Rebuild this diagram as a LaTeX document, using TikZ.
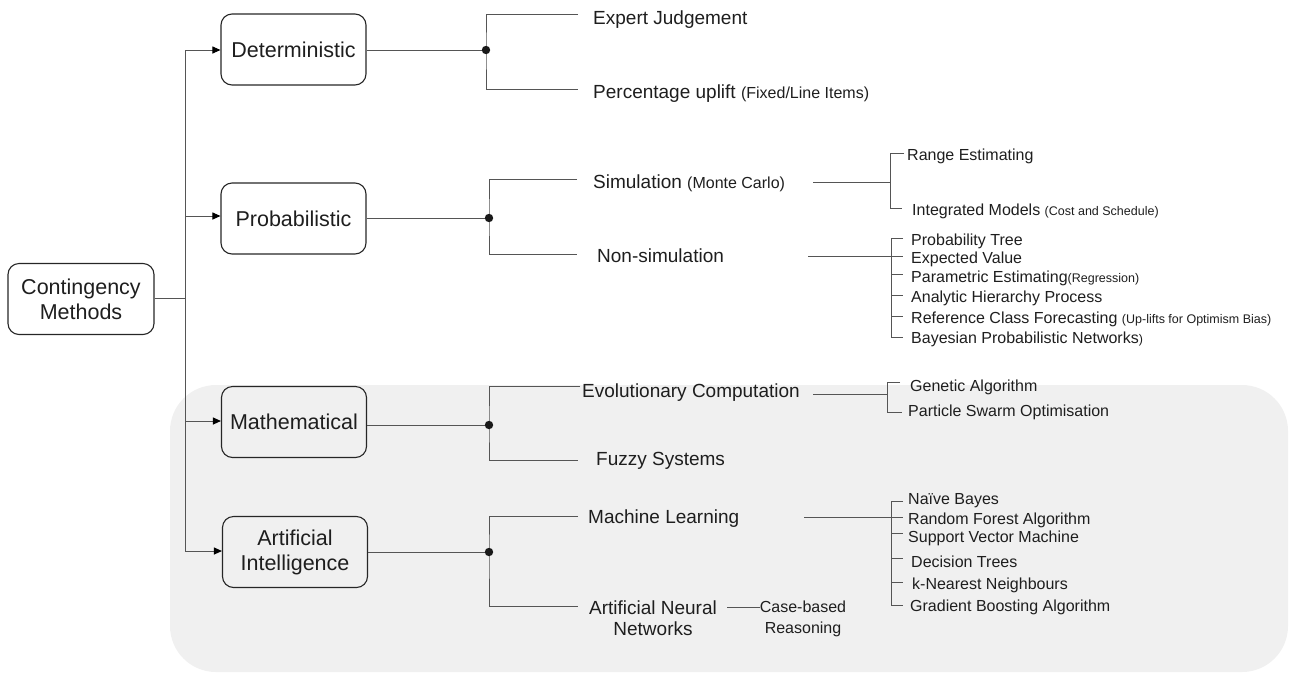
\documentclass[tikz,border=0pt]{standalone}
\usepackage{fontspec}
\setmainfont{Liberation Sans}
\usetikzlibrary{arrows.meta}
\definecolor{bgc}{HTML}{F0F0F0}
\definecolor{lnc}{HTML}{555555}
\definecolor{txc}{HTML}{1E1E1E}
\newcommand{\smA}[1]{{\fontsize{16}{19}\selectfont #1}}
\newcommand{\smB}[1]{{\fontsize{12.5}{15}\selectfont #1}}
\begin{document}
\begin{tikzpicture}[x=1pt,y=-1pt,
 box/.style={draw=black!85, line width=1.1pt, rounded corners=11pt, minimum width=145pt, minimum height=71pt, align=center, inner sep=0pt, text=txc, font=\fontsize{21.5}{25}\selectfont},
 lA/.style={anchor=mid west, inner sep=0pt, yshift=-4pt, text=txc, font=\fontsize{19}{21}\selectfont},
 lB/.style={anchor=mid west, inner sep=0pt, yshift=-3pt, text=txc, font=\fontsize{16}{19}\selectfont},
 ln/.style={draw=lnc, line width=1pt},
 arr/.style={-{Triangle[length=8pt,width=7pt,color=black,fill=black]}},
]
\useasboundingbox (0,0) rectangle (1297,673);
% background panel
\fill[bgc, rounded corners=46pt] (170,385) rectangle (1288,672);

% level 1 boxes
\node[box, minimum width=146pt] (cm) at (81,299) {Contingency\\Methods};
\node[box] (det) at (293.5,49.5) {Deterministic};
\node[box] (prob) at (293.5,218.5) {Probabilistic};
\node[box] (math) at (294,422) {Mathematical};
\node[box] (ai) at (295,552) {Artificial\\Intelligence};

% trunk
\coordinate (t0) at (185,298);
\coordinate (tdet) at (185,50);
\coordinate (tprob) at (185,216);
\coordinate (tmath) at (185,421);
\coordinate (tai) at (185,551);
\draw[ln] (cm.east |- t0) -- (t0);
\draw[ln] (tdet) -- (tai);
\draw[ln,arr] (tdet) -- (det.west |- tdet);
\draw[ln,arr] (tprob) -- (prob.west |- tprob);
\draw[ln,arr] (tmath) -- (math.west |- tmath);
\draw[ln,arr] (tai) -- (ai.west |- tai);

% level 2 text
\node[lA] (ej) at (593,18) {Expert Judgement};
\node[lA] (pu) at (593,92) {Percentage uplift \smA{(Fixed/Line Items)}};
\node[lA] (sim) at (593,182) {Simulation \smA{(Monte Carlo)}};
\node[lA] (nons) at (597,256) {Non-simulation};
\node[lA] (evo) at (582,391) {Evolutionary Computation};
\node[lA] (fuz) at (596,459) {Fuzzy Systems};
\node[lA] (ml) at (588,517) {Machine Learning};
\node[align=center, inner sep=0pt, text=txc, font=\fontsize{19}{21}\selectfont] (ann) at (653,618) {Artificial Neural\\Networks};
\node[align=center, inner sep=0pt, text=txc, font=\fontsize{16}{21}\selectfont] (cbr) at (803,619) {Case-based\\Reasoning};

% level 2 connectors
\coordinate (jdet) at (486,50);
\coordinate (ej0) at (578,14);
\coordinate (pu0) at (578,89);
\draw[ln] (det.east |- jdet) -- (jdet);
\draw[ln] (ej0) -| (jdet) |- (pu0);
\fill[black!90] (jdet) circle (4.2pt);

\coordinate (jprob) at (489,218);
\coordinate (sim0) at (577,179);
\coordinate (nons0) at (577,254);
\draw[ln] (prob.east |- jprob) -- (jprob);
\draw[ln] (sim0) -| (jprob) |- (nons0);
\fill[black!90] (jprob) circle (4.2pt);

\coordinate (jmath) at (489,425);
\coordinate (evo0) at (580,386);
\coordinate (fuz0) at (578,460);
\draw[ln] (math.east |- jmath) -- (jmath);
\draw[ln] (evo0) -| (jmath) |- (fuz0);
\fill[black!90] (jmath) circle (4.2pt);

\coordinate (jai) at (489,552);
\coordinate (ml0) at (578,516);
\coordinate (ann0) at (578,606);
\draw[ln] (ai.east |- jai) -- (jai);
\draw[ln] (ml0) -| (jai) |- (ann0);
\fill[black!90] (jai) circle (4.2pt);

\coordinate (annr) at (727,607);
\draw[ln] (annr) -- (cbr.west |- annr);

% simulation branch
\coordinate (sime) at (813,182);
\coordinate (simv) at (890,182);
\draw[ln] (sime) -- (simv);
\node[lB] (re) at (907,155) {Range Estimating};
\node[lB] (im) at (912,210) {Integrated Models \smB{(Cost and Schedule)}};
\draw[ln] ([xshift=-3pt]re.west |- 0,153) -| (simv) |- ([xshift=-10pt]im.west |- 0,208);

% non-simulation branch
\coordinate (nse) at (808,256);
\coordinate (nsv) at (891,256);
\draw[ln] (nse) -- (nsv);
\node[lB] (pt) at (911,240) {Probability Tree};
\node[lB] (ev) at (911,258) {Expected Value};
\node[lB] (pe) at (911,277) {Parametric Estimating\smB{(Regression)}};
\node[lB] (ah) at (911,297) {Analytic Hierarchy Process};
\node[lB] (rc) at (911,318) {Reference Class Forecasting \smB{(Up-lifts for Optimism Bias)}};
\node[lB] (bp) at (911,338) {Bayesian Probabilistic Networks\smB{)}};
\draw[ln] ([xshift=-8pt]pt.west |- 0,238) -| (nsv) |- ([xshift=-8pt]bp.west |- 0,337);
\draw[ln] (nsv) -- ([xshift=-8pt]ev.west |- nsv);
\draw[ln] (nsv |- 0,274) -- ([xshift=-8pt]pe.west |- 0,274);
\draw[ln] (nsv |- 0,295) -- ([xshift=-8pt]ah.west |- 0,295);
\draw[ln] (nsv |- 0,316) -- ([xshift=-8pt]rc.west |- 0,316);

% evolutionary branch
\coordinate (eve) at (813,394);
\coordinate (evv) at (887,394);
\draw[ln] (eve) -- (evv);
\node[lB] (ga) at (910,386) {Genetic Algorithm};
\node[lB] (pso) at (908,411) {Particle Swarm Optimisation};
\draw[ln] ([xshift=-10pt]ga.west |- 0,382) -| (evv) |- ([xshift=-6pt]pso.west |- 0,412);

% machine learning branch
\coordinate (mle) at (804,517);
\coordinate (mlv) at (891,517);
\draw[ln] (mle) -- (mlv);
\node[lB] (nb) at (908,499) {Naïve Bayes};
\node[lB] (rf) at (908,519) {Random Forest Algorithm};
\node[lB] (sv) at (908,537) {Support Vector Machine};
\node[lB] (dt) at (911,562) {Decision Trees};
\node[lB] (kn) at (912,584) {k-Nearest Neighbours};
\node[lB] (gb) at (910,606) {Gradient Boosting Algorithm};
\draw[ln] ([xshift=-5pt]nb.west |- 0,501) -| (mlv) |- ([xshift=-7pt]gb.west |- 0,605);
\draw[ln] (mlv) -- ([xshift=-5pt]rf.west |- mlv);
\draw[ln] (mlv |- 0,533) -- ([xshift=-5pt]sv.west |- 0,533);
\draw[ln] (mlv |- 0,558) -- ([xshift=-8pt]dt.west |- 0,558);
\draw[ln] (mlv |- 0,582) -- ([xshift=-9pt]kn.west |- 0,582);
\end{tikzpicture}
\end{document}
